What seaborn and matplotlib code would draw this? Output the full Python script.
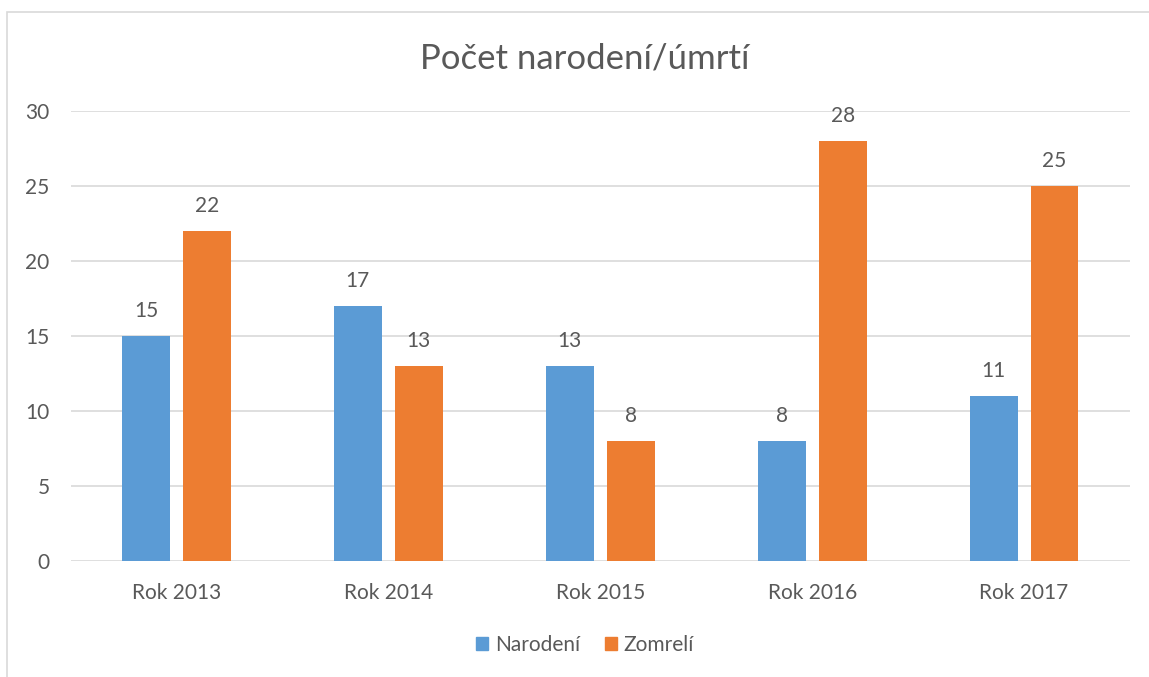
import pandas as pd
import matplotlib.pyplot as plt
import matplotlib.patches as mpatches
import seaborn as sns

# data
years = ["Rok 2013", "Rok 2014", "Rok 2015", "Rok 2016", "Rok 2017"]
narodeni = [15, 17, 13, 8, 11]
zomreli = [22, 13, 8, 28, 25]

df = pd.DataFrame({
    "rok": years * 2,
    "pocet": narodeni + zomreli,
    "typ": ["Narodení"] * len(years) + ["Zomrelí"] * len(years),
})

sns.set_theme(style="white")
plt.rcParams["font.family"] = ["Lato", "DejaVu Sans"]
gray = "#595959"

fig = plt.figure(figsize=(11.49, 6.77), dpi=100)
ax = fig.add_axes([70.5 / 1149, 1 - 561 / 677, (1130 - 70.5) / 1149, 450 / 677])

sns.barplot(data=df, x="rok", y="pocet", hue="typ", palette=["#5B9BD5", "#ED7D31"],
            width=0.575, gap=0.213, saturation=1, linewidth=0, ax=ax, legend=False)

for c in ax.containers:
    ax.bar_label(c, padding=11, fontsize=15, color=gray)

ax.set_ylim(0, 30)
ax.set_yticks(range(0, 31, 5))
ax.set_xlim(-0.5, 4.5)
ax.yaxis.grid(True, color="#D9D9D9", linewidth=1.2)
ax.set_axisbelow(True)
for s in ax.spines.values():
    s.set_visible(False)
ax.tick_params(axis="y", length=0, pad=15, labelsize=15, labelcolor=gray)
ax.tick_params(axis="x", length=0, pad=16, labelsize=15, labelcolor=gray)
ax.set_xlabel("")
ax.set_ylabel("")

fig.text(585 / 1149, 1 - 58 / 677, "Počet narodení/úmrtí", ha="center", va="center",
         fontsize=25, color=gray)

handles = [mpatches.Patch(color="#5B9BD5", label="Narodení"),
           mpatches.Patch(color="#ED7D31", label="Zomrelí")]
fig.legend(handles=handles, loc="center", bbox_to_anchor=(585 / 1149, 1 - 645 / 677),
           ncol=2, frameon=False, fontsize=15, labelcolor=gray, handlelength=0.6,
           handleheight=0.6, handletextpad=0.3, columnspacing=1.2)

# chart border
fig.patches.append(mpatches.Rectangle((7 / 1149, -0.1), 1.2, 1 - 12 / 677 + 0.1,
                                      transform=fig.transFigure, fill=False,
                                      edgecolor="#D9D9D9", linewidth=1.2))

fig.savefig("out.png", dpi=100)
